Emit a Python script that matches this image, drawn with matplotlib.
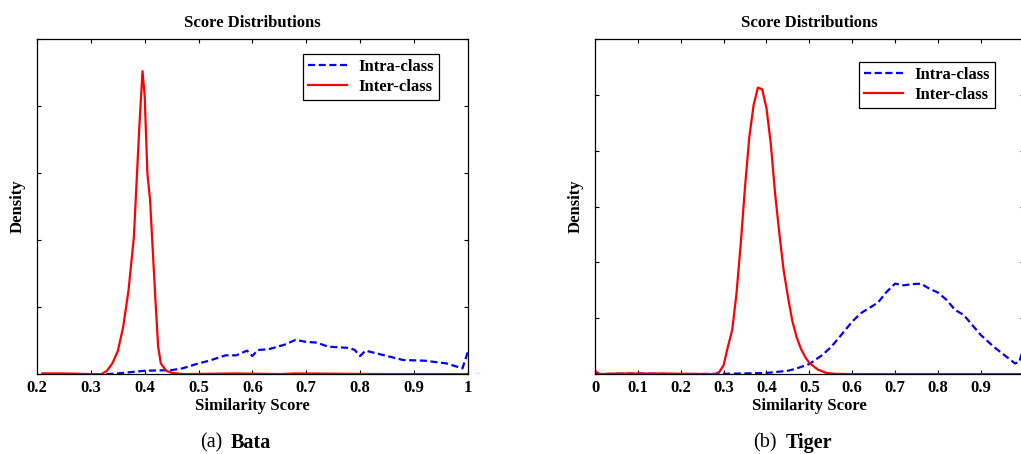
import matplotlib
matplotlib.use("Agg")
import matplotlib.pyplot as plt

# Panel (a) Bata
bata_intra_x = [0.21, 0.30, 0.33, 0.35, 0.40, 0.45, 0.47, 0.50, 0.52, 0.55, 0.57, 0.59, 0.60,
                0.61, 0.63, 0.66, 0.68, 0.70, 0.72, 0.74, 0.76, 0.78, 0.79, 0.80, 0.81, 0.85,
                0.88, 0.92, 0.96, 0.99, 1.00]
bata_intra_y = [0.0, 0.0, 0.0, 0.01, 0.05, 0.06, 0.085, 0.16, 0.20, 0.28, 0.28, 0.35, 0.27,
                0.36, 0.37, 0.44, 0.51, 0.48, 0.47, 0.41, 0.40, 0.39, 0.36, 0.27, 0.35, 0.27,
                0.21, 0.20, 0.16, 0.085, 0.33]
bata_inter_x = [0.21, 0.25, 0.30, 0.32, 0.33, 0.34, 0.35, 0.36, 0.37, 0.38, 0.39, 0.396, 0.40,
                0.405, 0.41, 0.415, 0.42, 0.425, 0.43, 0.44, 0.45, 0.47, 0.57, 0.65, 0.68,
                0.85, 0.90, 1.00]
bata_inter_y = [0.01, 0.01, 0.0, 0.0, 0.05, 0.16, 0.34, 0.70, 1.25, 2.05, 3.68, 4.52, 4.15,
                3.0, 2.6, 1.85, 1.1, 0.41, 0.16, 0.05, 0.02, 0.0, 0.01, 0.0, 0.01,
                0.0, 0.0, 0.0]

# Panel (b) Tiger
tiger_intra_x = [0.0, 0.10, 0.20, 0.30, 0.40, 0.45, 0.47, 0.50, 0.53, 0.55, 0.57, 0.60, 0.62,
                 0.66, 0.68, 0.70, 0.72, 0.74, 0.76, 0.78, 0.80, 0.82, 0.84, 0.86, 0.88, 0.90,
                 0.93, 0.96, 0.98, 0.99, 1.00]
tiger_intra_y = [0.0, 0.01, 0.0, 0.005, 0.02, 0.06, 0.10, 0.18, 0.34, 0.48, 0.66, 0.94, 1.09,
                 1.28, 1.47, 1.62, 1.59, 1.61, 1.62, 1.53, 1.46, 1.33, 1.15, 1.06, 0.88, 0.70,
                 0.49, 0.31, 0.19, 0.22, 0.49]
tiger_inter_x = [0.0, 0.01, 0.05, 0.15, 0.28, 0.29, 0.30, 0.31, 0.32, 0.33, 0.34, 0.35, 0.36,
                 0.37, 0.38, 0.39, 0.40, 0.41, 0.42, 0.43, 0.44, 0.45, 0.46, 0.47, 0.48, 0.49,
                 0.50, 0.52, 0.54, 0.56, 0.60, 0.80, 1.00]
tiger_inter_y = [0.06, 0.0, 0.01, 0.01, 0.0, 0.04, 0.16, 0.49, 0.79, 1.44, 2.34, 3.36, 4.25,
                 4.82, 5.13, 5.10, 4.76, 4.13, 3.24, 2.52, 1.86, 1.39, 0.96, 0.67, 0.46, 0.31,
                 0.20, 0.08, 0.02, 0.005, 0.0, 0.0, 0.0]

panels = [
    dict(rect=[0.0362, 0.176, 0.422, 0.738], xlim=(0.2, 1.0), ylim=(0, 5),
         xticks=[0.2, 0.3, 0.4, 0.5, 0.6, 0.7, 0.8, 0.9, 1.0],
         xlabels=["0.2", "0.3", "0.4", "0.5", "0.6", "0.7", "0.8", "0.9", "1"],
         intra=(bata_intra_x, bata_intra_y), inter=(bata_inter_x, bata_inter_y),
         legend_anchor=(0.933, 0.955), tag="(a)", name="Bata", split=226),
    # right panel runs slightly past the figure edge, so its "1" label is not shown
    dict(rect=[0.5828, 0.176, 0.4198, 0.738], xlim=(0.0, 1.0), ylim=(0, 6),
         xticks=[0, 0.1, 0.2, 0.3, 0.4, 0.5, 0.6, 0.7, 0.8, 0.9, 1.0],
         xlabels=["0", "0.1", "0.2", "0.3", "0.4", "0.5", "0.6", "0.7", "0.8", "0.9", ""],
         intra=(tiger_intra_x, tiger_intra_y), inter=(tiger_inter_x, tiger_inter_y),
         legend_anchor=(0.933, 0.931), tag="(b)", name="Tiger", split=781),
]

serif = "Liberation Serif"
fig = plt.figure(figsize=(10.21, 4.54), dpi=100)

for p in panels:
    ax = fig.add_axes(p["rect"])
    ax.plot(*p["intra"], color="#0000ff", linestyle=(0, (3.2, 1.6)), linewidth=1.6,
            label="Intra-class")
    ax.plot(*p["inter"], color="#ff0000", linestyle="-", linewidth=1.6, label="Inter-class")
    ax.set_xlim(*p["xlim"])
    ax.set_ylim(*p["ylim"])
    ax.set_xticks(p["xticks"])
    ax.set_xticklabels(p["xlabels"], fontfamily=serif, fontweight="bold", fontsize=12)
    ax.set_yticks(range(p["ylim"][1] + 1))
    ax.set_yticklabels([])
    ax.tick_params(direction="in", top=True, right=True, length=3, width=0.8, pad=4)
    for s in ax.spines.values():
        s.set_linewidth(0.9)
    ax.set_title("Score Distributions", fontfamily=serif, fontweight="bold", fontsize=12,
                 pad=9)
    ax.set_xlabel("Similarity Score", fontfamily=serif, fontweight="bold", fontsize=12,
                  labelpad=2)
    ax.set_ylabel("Density", fontfamily=serif, fontweight="bold", fontsize=12, labelpad=4)
    leg = ax.legend(loc="upper right", bbox_to_anchor=p["legend_anchor"], fancybox=False,
                    edgecolor="black", framealpha=1, handlelength=2.3, borderpad=0.3,
                    labelspacing=0.25, handletextpad=0.7, borderaxespad=0,
                    prop=dict(family=serif, weight="bold", size=12))
    leg.get_frame().set_linewidth(0.9)

    fy = 1 - 443 / 454
    fig.text((p["split"] - 4) / 1021, fy, p["tag"], ha="right", va="center",
             fontfamily=serif, fontsize=14.5)
    fig.text((p["split"] + 5) / 1021, fy, p["name"], ha="left", va="center",
             fontfamily=serif, fontweight="bold", fontsize=14.5)

fig.savefig("out.png", dpi=100)
